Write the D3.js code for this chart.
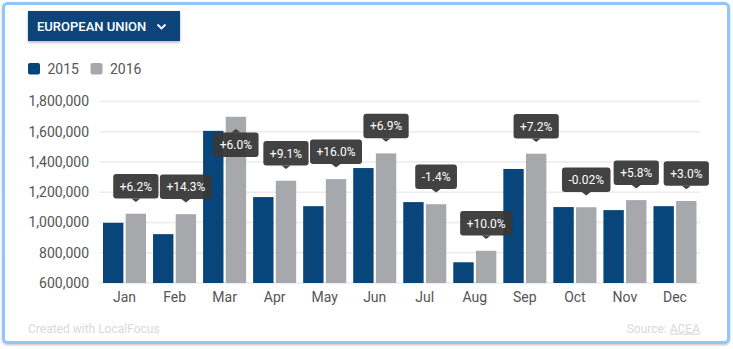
<!DOCTYPE html>
<html>
<head>
<meta charset="utf-8">
<script src="https://cdn.jsdelivr.net/npm/d3@7"></script>
<style>
html,body{margin:0;padding:0;background:#fff;}
svg{display:block;font-family:Roboto,"Noto Sans",sans-serif;}
</style>
</head>
<body>
<svg id="chart" width="733" height="349"></svg>
<script>
const months = ["Jan","Feb","Mar","Apr","May","Jun","Jul","Aug","Sep","Oct","Nov","Dec"];
const series = ["2015","2016"];
const values2015 = [998000,923000,1606000,1168000,1108000,1360000,1135000,737000,1354000,1102000,1082000,1108000];
const values2016 = [1058000,1055000,1699000,1276000,1287000,1457000,1121000,813000,1455000,1101000,1148000,1142000];
const changeLabels = ["+6.2%","+14.3%","+6.0%","+9.1%","+16.0%","+6.9%","-1.4%","+10.0%","+7.2%","-0.02%","+5.8%","+3.0%"];
const yTicks = [600000,800000,1000000,1200000,1400000,1600000,1800000];
const colors = {"2015":"#07457a","2016":"#a7a8ab"};

const svg = d3.select("#chart");
const defs = svg.append("defs");
const f = defs.append("filter").attr("id","sh").attr("x","-10%").attr("y","-20%").attr("width","130%").attr("height","160%");
f.append("feDropShadow").attr("dx",0).attr("dy",1.5).attr("stdDeviation",1.5).attr("flood-color","#000").attr("flood-opacity",0.3);
const f2 = defs.append("filter").attr("id","fsh").attr("x","-5%").attr("y","-5%").attr("width","110%").attr("height","110%");
f2.append("feDropShadow").attr("dx",0).attr("dy",1).attr("stdDeviation",1).attr("flood-color","#000").attr("flood-opacity",0.25);

// frame
svg.append("rect").attr("x",3.5).attr("y",3.5).attr("width",725).attr("height",339)
  .attr("rx",4).attr("fill","#fff").attr("stroke","#92c6fa").attr("stroke-width",3).attr("filter","url(#fsh)");

// button
svg.append("rect").attr("x",28).attr("y",11).attr("width",152).attr("height",30)
  .attr("fill","#07457a").attr("filter","url(#sh)");
svg.append("text").attr("x",37).attr("y",30.5).attr("fill","#fff").attr("font-size",13).attr("font-weight",500)
  .text("EUROPEAN UNION");
svg.append("path").attr("d","M157.5,24.5 L161.5,28.5 L165.5,24.5").attr("fill","none").attr("stroke","#fff").attr("stroke-width",1.8);

// legend
const lg = svg.append("g").selectAll("g").data(series).join("g")
  .attr("transform",(d,i)=>`translate(${28+i*62.5},63)`);
lg.append("rect").attr("width",12).attr("height",11.5).attr("rx",2).attr("fill",d=>colors[d]);
lg.append("text").attr("x",19.5).attr("y",11).attr("font-size",14).attr("fill","#555").text(d=>d);

// scales
const x0 = d3.scaleBand().domain(months).range([99.5,700]).paddingInner(0.14).paddingOuter(0.07);
const x1 = d3.scaleBand().domain(series).range([0,x0.bandwidth()]).paddingInner(0.1);
const y = d3.scaleLinear().domain([600000,1800000]).range([283,101.5]);

// grid
svg.append("g").selectAll("line").data(yTicks).join("line")
  .attr("x1",99.5).attr("x2",700).attr("y1",d=>y(d)).attr("y2",d=>y(d))
  .attr("stroke","#ebebeb").attr("stroke-width",1.6);

// y axis
const yAxis = svg.append("g").attr("transform","translate(89,0)")
  .call(d3.axisLeft(y).tickValues(yTicks).tickSize(0).tickPadding(0).tickFormat(d3.format(",")));
yAxis.select(".domain").remove();
yAxis.selectAll("text").attr("font-size",14).attr("fill","#555").attr("font-family","Roboto,sans-serif");

// x axis
const xAxis = svg.append("g").attr("transform","translate(0,283)")
  .call(d3.axisBottom(x0).tickSize(0).tickPadding(0));
xAxis.select(".domain").remove();
xAxis.selectAll("text").attr("font-size",14).attr("fill","#555").attr("font-family","Roboto,sans-serif").attr("dy",0).attr("y",18.5);

// bars
const data = months.map((m,i)=>({month:m, vals:[{s:"2015",v:values2015[i]},{s:"2016",v:values2016[i]}]}));
const grp = svg.append("g").selectAll("g").data(data).join("g")
  .attr("transform",d=>`translate(${x0(d.month)},0)`);
grp.selectAll("rect").data(d=>d.vals).join("rect")
  .attr("x",d=>x1(d.s)).attr("width",x1.bandwidth())
  .attr("y",d=>y(d.v)).attr("height",d=>y(600000)-y(d.v))
  .attr("fill",d=>colors[d.s]);

// change labels
const labG = svg.append("g");
data.forEach((d,i)=>{
  const cx = x0(d.month) + x1("2016") + x1.bandwidth()/2;
  const top = y(values2016[i]);
  const g = labG.append("g");
  const t = g.append("text").attr("font-size",12).attr("fill","#fff").attr("text-anchor","middle").text(changeLabels[i]);
  const w = t.node().getComputedTextLength() + 13;
  const h = 24.5;
  let boxY, tri;
  const tipUp = top - 11.7;
  if (tipUp - 3.5 - h < 100) {
    const tip = top + 12.3;
    boxY = tip + 3.5;
    tri = `M${cx-4.5},${boxY} L${cx},${tip} L${cx+4.5},${boxY} Z`;
  } else {
    boxY = tipUp - 3.5 - h;
    tri = `M${cx-4.5},${boxY+h} L${cx},${tipUp} L${cx+4.5},${boxY+h} Z`;
  }
  g.insert("path","text").attr("d",tri).attr("fill","#383838").attr("fill-opacity",0.95);
  g.insert("rect","text").attr("x",cx-w/2).attr("y",boxY).attr("width",w).attr("height",h).attr("rx",3)
    .attr("fill","#383838").attr("fill-opacity",0.95);
  t.attr("x",cx).attr("y",boxY+h/2+4.3);
});

// footer
svg.append("text").attr("x",28).attr("y",332.5).attr("font-size",12).attr("fill","#d9d9d9").text("Created with LocalFocus");
const src = svg.append("text").attr("x",700).attr("y",332.5).attr("font-size",12).attr("fill","#d9d9d9").attr("text-anchor","end");
src.append("tspan").text("Source: ");
src.append("tspan").attr("text-decoration","underline").text("ACEA");
</script>
</body>
</html>
